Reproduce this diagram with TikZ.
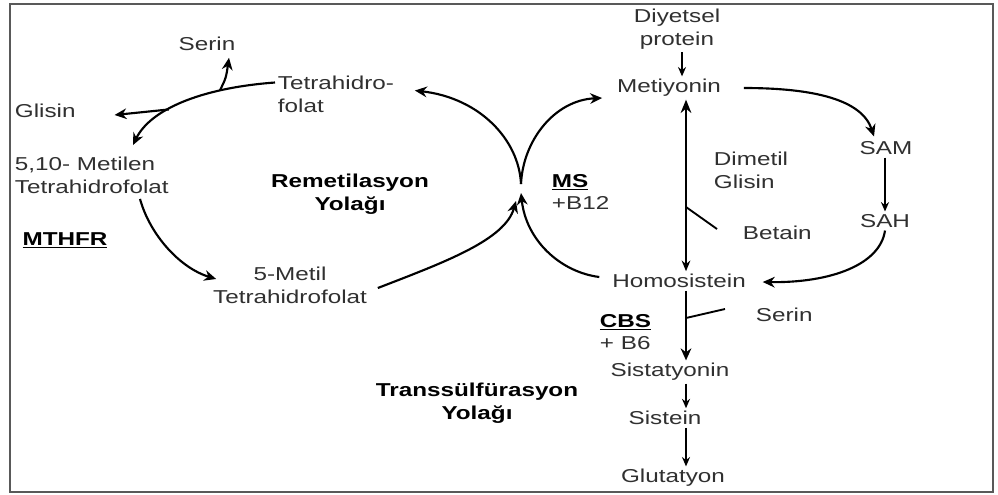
\documentclass[tikz,border=0pt]{standalone}
\usepackage{fontspec}
\setmainfont{Liberation Sans}[FakeStretch=1.3]
\usetikzlibrary{arrows.meta,calc}
\definecolor{txtgray}{HTML}{303030}
\begin{document}
\begin{tikzpicture}[x=0.75pt,y=-0.75pt,
  txt/.style={font=\fontsize{14}{17.5}\selectfont, text=txtgray, inner sep=2pt},
  bld/.style={font=\fontsize{14}{17.5}\selectfont\bfseries, text=black, inner sep=2pt},
  arr/.style={line width=1.6pt, -{Stealth[length=9pt,width=8pt]}},
  darr/.style={line width=1.6pt, {Stealth[length=10pt,width=8pt]}-{Stealth[length=8pt,width=6.5pt]}},
  tarr/.style={line width=1.3pt, -{Stealth[length=7pt,width=6pt]}},
  ln/.style={line width=1.4pt}]
\fill[white] (0,0) rectangle (998,494);
\useasboundingbox (0,0) rectangle (998,494);
\draw[line width=1.2pt, black!65] (10,4) rectangle (993,492);

% nodes
\node[txt] (serin1) at (207,44) {Serin};
\node[txt, align=left, anchor=west] (thf) at (275,94.5) {Tetrahidro-\\folat};
\node[txt, anchor=west] (glisin) at (12,111) {Glisin};
\node[txt, align=left, anchor=west] (mthf) at (12,175.5) {5,10- Metilen\\Tetrahidrofolat};
\node[bld] (mthfr) at (65,240) {\underline{MTHFR}};
\node[bld, align=center] (remet) at (350,194.5) {Remetilasyon\\Yolağı};
\node[txt, align=center] (metthf) at (290,285) {5-Metil\\Tetrahidrofolat};
\node[bld, anchor=west] (ms) at (549,182) {\underline{MS}};
\node[txt, anchor=west] (b12) at (549,203) {+B12};
\node[txt, align=center] (diy) at (677,29) {Diyetsel\\protein};
\node[txt] (met) at (669,88) {Metiyonin};
\node[txt, align=left, anchor=west] (dmg) at (711,170) {Dimetil\\Glisin};
\node[txt, anchor=west] (betain) at (740,233) {Betain};
\node[txt] (sam) at (886,148) {SAM};
\node[txt] (sah) at (885,221) {SAH};
\node[txt] (homo) at (679,281) {Homosistein};
\node[txt, anchor=west] (serin2) at (753,315) {Serin};
\node[bld, anchor=west] (cbs) at (597,322) {\underline{CBS}};
\node[txt, anchor=west] (b6) at (597,343) {+ B6};
\node[txt] (sist) at (670,372) {Sistatyonin};
\node[txt] (sistein) at (665,418) {Sistein};
\node[txt] (glut) at (673,478) {Glutatyon};
\node[bld, align=center] (trans) at (477,403.5) {Transsülfürasyon\\Yolağı};

% helper coordinates
\coordinate (colA) at (686,0);
\coordinate (colD) at (682,0);
\coordinate (colS) at (885,0);
\coordinate (jtop) at (521,184);
\coordinate (jbot) at (521,193);
\coordinate (jbotA) at (516,201);
\coordinate (bj) at (686,207);
\coordinate (bend) at (717,229);
\coordinate (sj) at (686,318);
\coordinate (send) at (725,309);

% left cycle
\draw[arr] ($(thf.west)+(0,-12)$) .. controls (200,88) and (150,110) .. ($(mthf.north west)+(121,-9)$)
  coordinate[pos=0.27] (sbr) coordinate[pos=0.6] (gbr);
\draw[arr] (gbr) -- ($(glisin.east)+(36,4)$);
\draw[arr] (sbr) .. controls (226,78) .. ($(serin1.south)+(22,4)$);
\draw[arr] ($(mthf.south west)+(128,2)$) .. controls (150,235) and (180,268) .. ($(metthf.west)+(6,-6)$);
\draw[arr] ($(metthf.east)+(8,3)$) .. controls (445,262) and (505,240) .. (jbotA);
\draw[arr] ($(homo.west)+(-10,-4)$) .. controls (560,272) and (526,240) .. (jbot);
\draw[arr] (jtop) .. controls (519,140) and (480,98) .. ($(thf.east)+(18,-4)$);
\draw[arr] (jtop) .. controls (523,140) and (555,100) .. ($(met.west)+(-12,10)$);

% right side
\draw[tarr] (diy.south -| colD) -- (met.north -| colD);
\draw[darr] (met.south -| colA) -- (homo.north -| colA);
\draw[ln] (bj) -- (bend);
\draw[arr] ($(met.east)+(20,0)$) .. controls (815,88) and (862,100) .. ($(sam.north)+(-12,-2)$);
\draw[tarr] (sam.south -| colS) -- (sah.north -| colS);
\draw[arr] (sah.south) .. controls (880,265) and (830,283) .. ($(homo.east)+(14,1)$);
\draw[arr] (homo.south -| colA) -- (sist.north -| colA);
\draw[ln] (sj) -- (send);
\draw[tarr] (sist.south -| colA) -- (sistein.north -| colA);
\draw[tarr] (sistein.south -| colA) -- (glut.north -| colA);
\end{tikzpicture}
\end{document}
